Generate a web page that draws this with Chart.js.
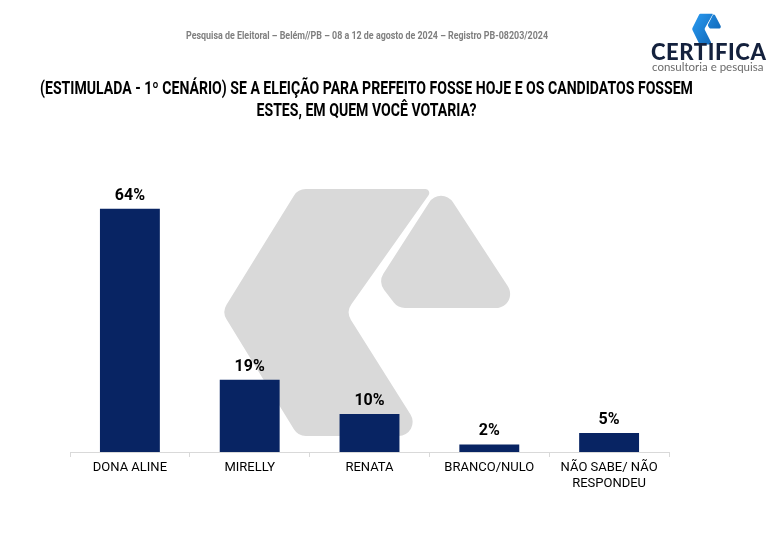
<!DOCTYPE html>
<html>
<head>
<meta charset="utf-8">
<script src="https://cdn.jsdelivr.net/npm/chart.js@4.4.1/dist/chart.umd.min.js"></script>
<style>
  body { margin: 0; background: #fff; }
  #wrap { position: relative; width: 777px; height: 552px; overflow: hidden; }
  #grafico { position: absolute; left: 0; top: 0; }
  .txt { position: absolute; font-family: 'Roboto', sans-serif; white-space: nowrap; }
  #cabecalho { left: 0; width: 734px; top: 30px; text-align: center; font-size: 10px; font-weight: bold; color: #7f7f7f; transform: scaleX(0.89); transform-origin: 367px 0; }
  #titulo { left: -100px; width: 933px; top: 77px; text-align: center; font-size: 17.5px; font-weight: bold; color: #000; line-height: 22px; transform: scaleX(0.805); transform-origin: 466.5px 0; }
  #marca { left: 651px; top: 38px; font-family: 'Lato', 'Open Sans', sans-serif; font-size: 22px; font-weight: 900; color: #14213d; letter-spacing: 0.6px; }
  #sub { left: 652px; top: 60px; font-family: 'Lato', 'Open Sans', sans-serif; font-size: 11.5px; color: #6b6b6b; }
</style>
</head>
<body>
<div id="wrap">
  <canvas id="grafico" width="777" height="552"></canvas>
  <div class="txt" id="cabecalho">Pesquisa de Eleitoral – Belém//PB – 08 a 12 de agosto de 2024 – Registro PB-08203/2024</div>
  <div class="txt" id="titulo">(ESTIMULADA - 1º CENÁRIO) SE A ELEIÇÃO PARA PREFEITO FOSSE HOJE E OS CANDIDATOS FOSSEM<br>ESTES, EM QUEM VOCÊ VOTARIA?</div>
  <div class="txt" id="marca">CERTIFICA</div>
  <div class="txt" id="sub">consultoria e pesquisa</div>
</div>
<script>
// dados
const categorias = ['DONA ALINE', 'MIRELLY', 'RENATA', 'BRANCO/NULO', ['NÃO SABE/ NÃO', 'RESPONDEU']];
const valores = [64, 19, 10, 2, 5];

const fonte = "'Roboto', sans-serif";

// desenha poligono com cantos arredondados
function poligono(ctx, pts, r) {
    const n = pts.length;
    ctx.beginPath();
    const m0 = [(pts[n - 1][0] + pts[0][0]) / 2, (pts[n - 1][1] + pts[0][1]) / 2];
    ctx.moveTo(m0[0], m0[1]);
    for (let i = 0; i < n; i++) {
        const p = pts[i];
        const q = pts[(i + 1) % n];
        ctx.arcTo(p[0], p[1], q[0], q[1], Array.isArray(r) ? r[i] : r);
    }
    ctx.closePath();
    ctx.fill();
}

const formaA = [[298, 189], [433, 189], [346, 312], [424, 436], [298, 436], [222, 312]];
const formaB = [[441, 184], [522, 308], [398, 308], [378, 282]];

// marca d'agua e logo
const fundo = {
    id: 'fundo',
    beforeDatasetsDraw(chart) {
        const ctx = chart.ctx;
        ctx.save();
        ctx.fillStyle = '#d9d9d9';
        poligono(ctx, formaA, [14, 4, 14, 14, 14, 14]);
        poligono(ctx, formaB, [14, 14, 14, 14]);
        ctx.restore();
    },
    afterDraw(chart) {
        const ctx = chart.ctx;
        ctx.save();
        ctx.translate(692 - 222 * 0.1, 13 - 184 * 0.125);
        ctx.scale(0.1, 0.125);
        const g = ctx.createLinearGradient(222, 184, 522, 436);
        g.addColorStop(0, '#2a9df4');
        g.addColorStop(1, '#0b5cab');
        ctx.fillStyle = g;
        poligono(ctx, formaA, [14, 4, 14, 14, 14, 14]);
        poligono(ctx, formaB, [14, 14, 14, 14]);
        ctx.restore();
    }
};

// rotulos de valor
const rotulos = {
    id: 'rotulos',
    afterDatasetsDraw(chart) {
        const ctx = chart.ctx;
        const meta = chart.getDatasetMeta(0);
        ctx.save();
        ctx.font = 'bold 16px ' + fonte;
        ctx.fillStyle = '#000';
        ctx.textAlign = 'center';
        ctx.textBaseline = 'bottom';
        meta.data.forEach((bar, i) => {
            ctx.fillText(valores[i] + '%', bar.x, bar.y - 5);
        });
        ctx.restore();
    }
};

new Chart(document.getElementById('grafico'), {
    type: 'bar',
    data: {
        labels: categorias,
        datasets: [{
            data: valores,
            backgroundColor: '#082463',
            barPercentage: 0.5,
            categoryPercentage: 1
        }]
    },
    options: {
        responsive: false,
        animation: false,
        layout: { padding: { left: 70, right: 108, top: 186, bottom: 0 } },
        plugins: { legend: { display: false }, tooltip: { enabled: false } },
        scales: {
            y: { display: false, min: 0, max: 70 },
            x: {
                afterFit(scale) { scale.height = 100; },
                grid: { drawOnChartArea: false, drawTicks: true, tickLength: 5, color: '#d9d9d9', offset: true },
                border: { color: '#d9d9d9', width: 1 },
                ticks: { color: '#000', font: { family: fonte, size: 13 }, padding: 3, maxRotation: 0, autoSkip: false }
            }
        }
    },
    plugins: [fundo, rotulos]
});
</script>
</body>
</html>
